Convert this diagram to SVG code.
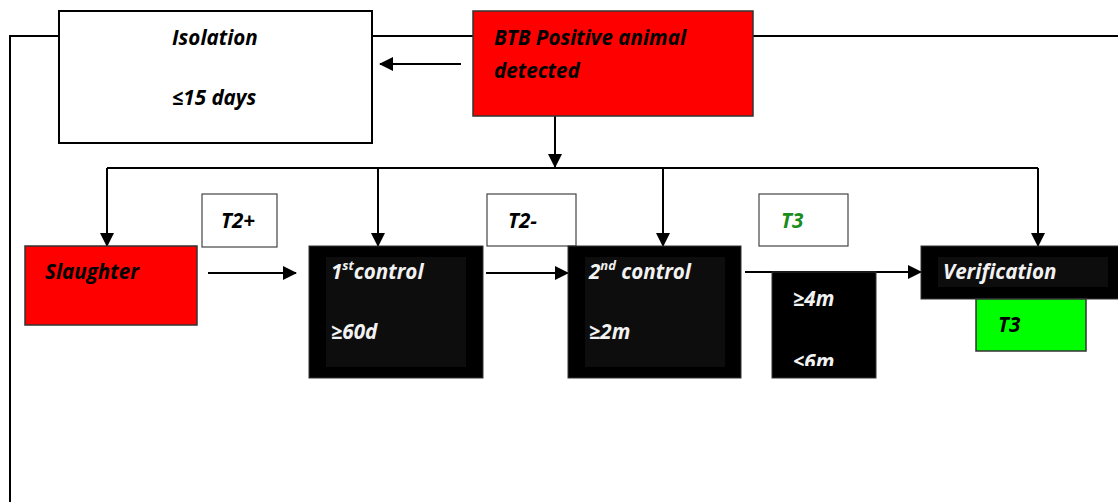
<svg xmlns="http://www.w3.org/2000/svg" width="1118" height="502" viewBox="0 0 1118 502">
<style>
text{font-family:"Open Sans","Liberation Sans",sans-serif;font-weight:bold;font-style:italic;font-size:20.6px;fill:#000}
.w{fill:#f2f2f2}
.g{fill:#1a8c1a}
.ln{stroke:#000;stroke-width:2;fill:none}
.bx{stroke:#000;stroke-width:2;fill:#fff}
.lb{stroke:#444;stroke-width:1.2;fill:#fff}
.red{fill:#ff0000;stroke:#333;stroke-width:1.5}
.blk{fill:#000;stroke:#333;stroke-width:1}
.in{fill:#0d0d0d}
</style>
<defs>
<marker id="ah2" markerWidth="14" markerHeight="14" refX="13" refY="7" orient="auto" markerUnits="userSpaceOnUse">
<path d="M0,0 L14,7 L0,14 Z" fill="#000"/>
</marker>
<clipPath id="c46"><rect x="772" y="272" width="104" height="94"/></clipPath>
</defs>
<g id="connectors">
<path class="ln" d="M10,502 V36 H59"/>
<path class="ln" d="M372,36 H473"/>
<path class="ln" d="M753,36 H1118"/>
<path class="ln" d="M461,64 H380" marker-end="url(#ah2)"/>
<path class="ln" d="M555,116 V167" marker-end="url(#ah2)"/>
<path class="ln" d="M107,168 H1038"/>
<path class="ln" d="M107,168 V246" marker-end="url(#ah2)"/>
<path class="ln" d="M378,168 V246" marker-end="url(#ah2)"/>
<path class="ln" d="M663,168 V246" marker-end="url(#ah2)"/>
<path class="ln" d="M1038,168 V246" marker-end="url(#ah2)"/>
<path class="ln" d="M208,273 H296" marker-end="url(#ah2)"/>
<path class="ln" d="M486,273 H568" marker-end="url(#ah2)"/>
<path class="ln" d="M745,272 H921" marker-end="url(#ah2)"/>
</g>
<g id="isolation">
<rect class="bx" x="59" y="11" width="313" height="132"/>
<text x="172" y="45">Isolation</text>
<text x="172" y="105">≤15 days</text>
</g>
<g id="btb">
<rect class="red" x="473" y="11" width="280" height="105"/>
<text x="494" y="45">BTB Positive animal</text>
<text x="494" y="78">detected</text>
</g>
<g id="slaughter">
<rect class="red" x="25" y="246" width="172" height="79"/>
<text x="45" y="279">Slaughter</text>
</g>
<g id="t2plus">
<rect class="lb" x="202" y="194" width="75" height="53"/>
<text x="221" y="228">T2+</text>
</g>
<g id="control1">
<rect class="blk" x="309" y="246" width="174" height="132"/>
<rect class="in" x="326" y="257" width="140" height="110"/>
<text class="w" x="331" y="279">1<tspan font-size="13" dy="-9">st</tspan><tspan dy="9">control</tspan></text>
<text class="w" x="331" y="339">≥60d</text>
</g>
<g id="t2minus">
<rect class="lb" x="487" y="194" width="89" height="52"/>
<text x="508" y="228">T2-</text>
</g>
<g id="control2">
<rect class="blk" x="568" y="246" width="173" height="132"/>
<rect class="in" x="585" y="257" width="140" height="110"/>
<text class="w" x="589" y="279">2<tspan font-size="13" dy="-9">nd</tspan><tspan dy="9"> control</tspan></text>
<text class="w" x="589" y="339">≥2m</text>
</g>
<g id="t3label">
<rect class="lb" x="759" y="194" width="89" height="52"/>
<text class="g" x="781" y="228">T3</text>
</g>
<g id="interval">
<rect class="blk" x="772" y="272" width="104" height="106"/>
<g clip-path="url(#c46)">
<text class="w" x="793" y="306">≥4m</text>
<text class="w" x="793" y="369">≤6m</text>
</g>
</g>
<g id="verification">
<rect class="blk" x="921" y="246" width="200" height="53"/>
<rect class="in" x="938" y="257" width="170" height="30"/>
<text class="w" x="943" y="279">Verification</text>
</g>
<g id="t3green">
<rect x="976" y="299" width="110" height="52" fill="#00ff00" stroke="#333" stroke-width="1.5"/>
<text x="998" y="332">T3</text>
</g>
</svg>
